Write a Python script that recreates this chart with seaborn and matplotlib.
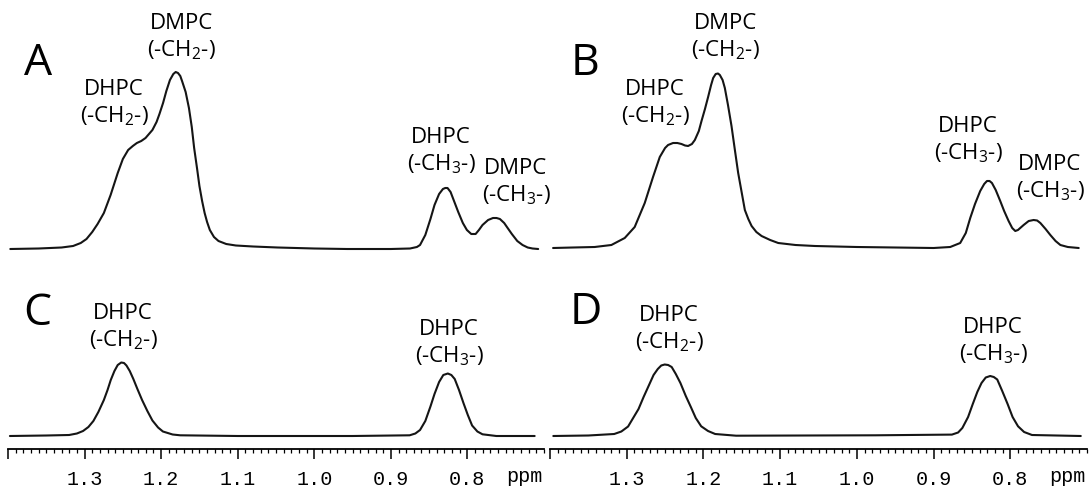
import matplotlib
matplotlib.use("Agg")
import matplotlib.pyplot as plt
import matplotlib.transforms as mtransforms
from matplotlib.ticker import FixedLocator, FixedFormatter, MultipleLocator
import seaborn as sns
import pandas as pd

# ---------------- data (ppm, intensity) ----------------
a_ppm = [1.397, 1.36, 1.33, 1.315, 1.305, 1.2975, 1.29, 1.283, 1.2748, 1.266, 1.2567, 1.250,
         1.2431, 1.237, 1.2317, 1.226, 1.2204, 1.2114, 1.206, 1.2022, 1.1975, 1.1932, 1.1885,
         1.1841, 1.181, 1.178, 1.175, 1.1727, 1.168, 1.1637, 1.160, 1.1569, 1.153, 1.150,
         1.1465, 1.1432, 1.140, 1.1364, 1.131, 1.1251, 1.115, 1.1024, 1.08, 1.0479, 1.0,
         0.9572, 0.90, 0.875, 0.866, 0.8619, 0.855, 0.8483, 0.843, 0.837, 0.832, 0.829, 0.826,
         0.822, 0.8165, 0.812, 0.806, 0.8007, 0.795, 0.7893, 0.785, 0.7803, 0.773, 0.7666,
         0.762, 0.7576, 0.752, 0.7484, 0.742, 0.7349, 0.728, 0.7213, 0.715, 0.7076]
a_int = [0, 0.5, 1.5, 3, 6, 10, 17, 25, 36, 54, 76, 90,
         99, 103, 106, 108, 111, 119, 127, 135, 146, 158, 169,
         175, 177, 176, 173, 168, 157, 141, 122, 101, 80, 63,
         48, 36, 27, 19, 12, 8, 5, 3.5, 2.5, 1.5, 0.5,
         0, 0, 0.5, 2, 4, 14, 30, 44, 55, 60, 61, 61,
         57, 46, 37, 26, 19, 15, 15, 19, 24, 29, 31,
         31, 30, 26, 22, 15, 8, 4, 1.5, 0.5, 0]

b_ppm = [1.396, 1.37, 1.3418, 1.32, 1.3026, 1.2896, 1.2765, 1.2657, 1.2569, 1.250, 1.2461,
         1.2396, 1.234, 1.2286, 1.224, 1.220, 1.215, 1.2112, 1.206, 1.2025, 1.198, 1.1939,
         1.190, 1.1873, 1.184, 1.181, 1.1786, 1.175, 1.1721, 1.168, 1.1634, 1.159, 1.1547,
         1.150, 1.146, 1.1415, 1.1372, 1.131, 1.1242, 1.113, 1.1025, 1.08, 1.0546, 1.00,
         0.95, 0.90, 0.8783, 0.8653, 0.858, 0.8522, 0.846, 0.8392, 0.834, 0.8304, 0.827,
         0.8239, 0.819, 0.8131, 0.808, 0.8022, 0.7975, 0.7935, 0.790, 0.7826, 0.776, 0.7696,
         0.765, 0.7608, 0.754, 0.7478, 0.741, 0.7347, 0.725, 0.7108]
b_int = [0, 0.5, 1, 3, 10, 21, 45, 71, 91, 100, 103,
         105, 105, 104, 102.5, 102, 104, 108, 117, 127, 139, 151,
         163, 170, 174, 174.5, 173, 168, 160, 143, 122, 98, 75,
         55, 38, 29, 22, 16, 12, 8, 5, 3, 2, 1,
         0.5, 0, 1, 5, 15, 30, 44, 57, 64, 67, 67,
         65, 58, 47, 37, 27, 20, 17, 18, 23, 27, 28,
         27.5, 25, 19, 13, 7, 3, 1, 0]

c_ppm = [1.3975, 1.35, 1.3202, 1.310, 1.302, 1.295, 1.2885, 1.282, 1.2748, 1.270, 1.2658,
         1.261, 1.2567, 1.2521, 1.2485, 1.2453, 1.241, 1.2363, 1.231, 1.2249, 1.218, 1.2114,
         1.204, 1.1977, 1.185, 1.1751, 1.10, 0.95, 0.8755, 0.868, 0.8619, 0.855, 0.8483,
         0.843, 0.837, 0.8315, 0.8256, 0.821, 0.8166, 0.811, 0.8052, 0.7995, 0.7939, 0.787,
         0.7803, 0.7622, 0.7122]
c_int = [0, 0.5, 1, 2.5, 5, 9, 15, 24, 36, 46, 56,
         65, 71, 73.5, 73, 70.5, 65, 57, 47, 36, 25, 15.5,
         8.5, 4.5, 1.5, 0.7, 0, 0, 0.7, 2.5, 6, 15, 29.5,
         42, 54, 61, 62.5, 61, 57, 46, 33, 21, 10.5, 4.5,
         1.7, 0, 0]

d_ppm = [1.3957, 1.35, 1.3163, 1.307, 1.2982, 1.2846, 1.278, 1.2709, 1.265, 1.2595, 1.255,
         1.2505, 1.246, 1.2414, 1.236, 1.230, 1.223, 1.2164, 1.210, 1.2029, 1.194, 1.1847,
         1.1574, 0.976, 0.8761, 0.868, 0.8625, 0.855, 0.8489, 0.843, 0.8375, 0.832, 0.8262,
         0.8215, 0.817, 0.8105, 0.8035, 0.797, 0.7899, 0.782, 0.7717, 0.7081]
d_int = [0, 0.5, 2, 4.5, 9.5, 27, 39, 51, 61, 67, 70.5,
         71.5, 71, 69, 62, 53, 40, 29, 18, 9.7, 5, 2,
         0.3, 0.7, 1.4, 3.5, 8, 19, 32, 44, 53, 58.5, 60,
         59, 56.5, 45, 32, 19, 9.7, 4, 1, 0]

panel_letters = ["A", "B", "C", "D"]
major_ticks = [1.4, 1.3, 1.2, 1.1, 1.0, 0.9, 0.8]
major_labels = ["", "1.3", "1.2", "1.1", "1.0", "0.9", "0.8"]
unit_label = "ppm"

CH2 = "(-CH$_{2}$-)"
CH3 = "(-CH$_{3}$-)"

# ---------------- style ----------------
sns.set_theme(style="white")
plt.rcParams["font.family"] = ["Open Sans", "DejaVu Sans"]
plt.rcParams["mathtext.fontset"] = "custom"
plt.rcParams["mathtext.rm"] = "Open Sans"
plt.rcParams["mathtext.it"] = "Open Sans:italic"
plt.rcParams["mathtext.bf"] = "Open Sans:bold"

W, H = 1089, 491
fig = plt.figure(figsize=(W / 100, H / 100), dpi=100)
fig.patch.set_facecolor("white")

XLIM = (1.40, 0.70)
LINE = "#151515"


def px_axes(x0, x1, y_top, y_bot):
    return fig.add_axes([x0 / W, 1 - y_bot / H, (x1 - x0) / W, (y_bot - y_top) / H])


def spectrum(x0, x1, baseline, top, ppm, inten):
    ax = px_axes(x0, x1, top, baseline + 6)
    df = pd.DataFrame({"ppm": ppm, "I": inten})
    sns.lineplot(data=df, x="ppm", y="I", ax=ax, color=LINE, lw=1.5,
                 sort=False, estimator=None)
    ax.set_xlim(*XLIM)
    ax.set_ylim(-6, baseline - top)
    ax.axis("off")
    return ax


spectrum(8, 544, 249, 0, a_ppm, a_int)
spectrum(550, 1087, 248, 0, b_ppm, b_int)
spectrum(8, 544, 436, 262, c_ppm, c_int)
spectrum(550, 1087, 436, 262, d_ppm, d_int)


def scale_axes(x0, x1):
    ax = px_axes(x0, x1, 430, 449)
    ax.set_xlim(*XLIM)
    ax.set_ylim(0, 1)
    ax.set_facecolor("none")
    for s in ["left", "right", "top"]:
        ax.spines[s].set_visible(False)
    ax.spines["bottom"].set_visible(True)
    ax.spines["bottom"].set_color("black")
    ax.spines["bottom"].set_linewidth(1.3)
    ax.set_yticks([])
    ax.xaxis.set_major_locator(FixedLocator(major_ticks))
    ax.xaxis.set_major_formatter(FixedFormatter(major_labels))
    ax.xaxis.set_minor_locator(MultipleLocator(0.01))
    ax.tick_params(axis="x", which="major", direction="out", length=7.5, width=1.1,
                   color="black", pad=7.5, bottom=True, labelsize=14.5,
                   labelcolor="black")
    ax.tick_params(axis="x", which="minor", direction="out", length=3.2, width=0.9,
                   color="black", bottom=True)
    for lab in ax.get_xticklabels():
        lab.set_fontfamily("Liberation Mono")
    tr = mtransforms.blended_transform_factory(ax.transData, fig.transFigure)
    ax.text(0.725, 1 - 477 / H, unit_label, transform=tr, ha="center", va="center",
            fontsize=14.5, fontfamily="Liberation Mono", color="black")
    return ax


scale_axes(8, 544)
scale_axes(550, 1087)

# panel letters
for letter, (x, y) in zip(panel_letters, [(24, 75), (571, 75), (23, 325), (570, 324)]):
    fig.text(x / W, 1 - y / H, letter, fontsize=32, color="black", ha="left",
             va="baseline")

# peak annotations (center x, top y in pixels)
notes = [
    ("DMPC\n" + CH2, 181, 13), ("DHPC\n" + CH2, 114, 79),
    ("DHPC\n" + CH3, 441, 127), ("DMPC\n" + CH3, 516, 158),
    ("DMPC\n" + CH2, 725, 13), ("DHPC\n" + CH2, 655, 79),
    ("DHPC\n" + CH3, 968, 116), ("DMPC\n" + CH3, 1050, 154),
    ("DHPC\n" + CH2, 123, 303), ("DHPC\n" + CH3, 449, 319),
    ("DHPC\n" + CH2, 669, 305), ("DHPC\n" + CH3, 993, 317),
]
for txt, x, y in notes:
    fig.text(x / W, 1 - y / H, txt, fontsize=16, color="black", ha="center",
             va="top", multialignment="center", linespacing=1.25)

fig.savefig("out.png", dpi=100, facecolor="white")
